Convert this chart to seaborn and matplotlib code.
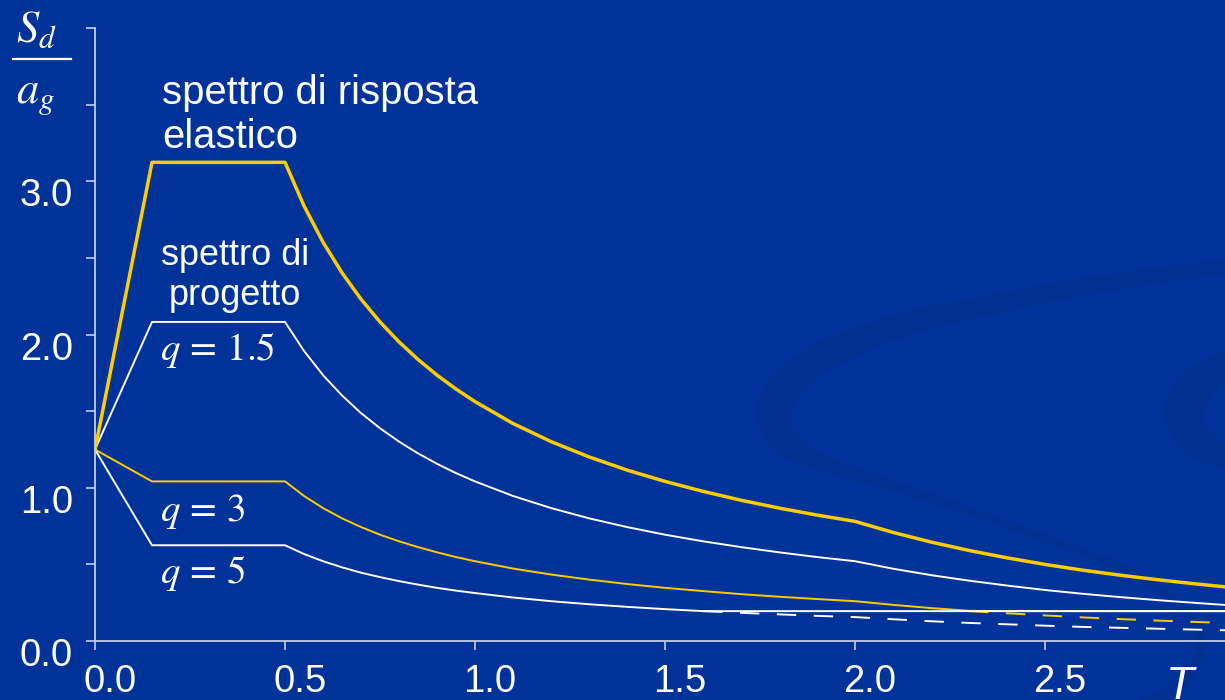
import numpy as np
import pandas as pd
import matplotlib
matplotlib.use("Agg")
import matplotlib.pyplot as plt
from matplotlib.patches import Polygon
from matplotlib.transforms import Affine2D, ScaledTranslation
import seaborn as sns

# ---- spectral ordinates S_d / a_g against period T [s] ----
period = [0.0, 0.15, 0.5, 0.55, 0.6, 0.65, 0.7, 0.75, 0.8, 0.85, 0.9, 0.95,
          1.0, 1.1, 1.2, 1.3, 1.4, 1.5, 1.6, 1.7, 1.8, 1.9, 2.0, 2.1, 2.2,
          2.3, 2.4, 2.5, 2.6, 2.7, 2.8, 2.9, 3.0]
sd_elastic = [1.25, 3.125, 3.125, 2.841, 2.604, 2.404, 2.232, 2.083, 1.953,
              1.838, 1.736, 1.645, 1.563, 1.420, 1.302, 1.202, 1.116, 1.042,
              0.977, 0.919, 0.868, 0.822, 0.781, 0.709, 0.646, 0.591, 0.543,
              0.500, 0.462, 0.429, 0.399, 0.372, 0.347]
sd_q15 = [1.25, 2.083, 2.083, 1.894, 1.736, 1.603, 1.488, 1.389, 1.302,
          1.225, 1.157, 1.096, 1.042, 0.947, 0.868, 0.801, 0.744, 0.694,
          0.651, 0.613, 0.579, 0.548, 0.521, 0.472, 0.430, 0.394, 0.362,
          0.333, 0.308, 0.286, 0.266, 0.248, 0.231]
sd_q3 = [1.25, 1.042, 1.042, 0.947, 0.868, 0.801, 0.744, 0.694, 0.651,
         0.613, 0.579, 0.548, 0.521, 0.473, 0.434, 0.401, 0.372, 0.347,
         0.326, 0.306, 0.289, 0.274, 0.260, 0.236, 0.215, 0.197, 0.181,
         0.167, 0.154, 0.143, 0.133, 0.124, 0.116]
sd_q5 = [1.25, 0.625, 0.625, 0.568, 0.521, 0.481, 0.446, 0.417, 0.391,
         0.368, 0.347, 0.329, 0.313, 0.284, 0.260, 0.240, 0.223, 0.208,
         0.195, 0.184, 0.174, 0.164, 0.156, 0.142, 0.129, 0.118, 0.109,
         0.100, 0.092, 0.086, 0.080, 0.074, 0.069]
lower_bound = 0.195

x_ticks = [0.0, 0.5, 1.0, 1.5, 2.0, 2.5]
x_tick_labels = ["0.0", "0.5", "1.0", "1.5", "2.0", "2.5"]
y_ticks = [0.0, 0.5, 1.0, 1.5, 2.0, 2.5, 3.0, 3.5, 4.0]
y_tick_labels = ["0.0", "", "1.0", "", "2.0", "", "3.0", "", ""]

BG = "#003399"
SWIRL = "#003090"
YELLOW = "#ffcc00"
WHITE = "#ffffff"
AXIS = "#c4cce6"

plt.rcParams["font.family"] = ["Liberation Sans", "DejaVu Sans"]
plt.rcParams["mathtext.fontset"] = "stix"

W, H = 1225, 700
fig = plt.figure(figsize=(W / 100, H / 100), dpi=100, facecolor=BG)

# pixel -> figure transform (origin top-left)
pix = Affine2D().scale(1 / W, -1 / H).translate(0, 1) + fig.transFigure


# ---- decorative swirl in the background ----
def ribbon(nodes, widths, n=40):
    """Filled ribbon of varying width along a Catmull-Rom centreline."""
    p = np.asarray(nodes, dtype=float)
    w = np.asarray(widths, dtype=float)
    ext = np.vstack([2 * p[0] - p[1], p, 2 * p[-1] - p[-2]])
    pts, wid = [], []
    for i in range(len(p) - 1):
        p0, p1, p2, p3 = ext[i], ext[i + 1], ext[i + 2], ext[i + 3]
        t = np.linspace(0, 1, n, endpoint=False)[:, None]
        seg = 0.5 * ((2 * p1) + (-p0 + p2) * t
                     + (2 * p0 - 5 * p1 + 4 * p2 - p3) * t ** 2
                     + (-p0 + 3 * p1 - 3 * p2 + p3) * t ** 3)
        pts.append(seg)
        wid.append(w[i] + (w[i + 1] - w[i]) * t[:, 0])
    pts = np.vstack(pts + [p[-1:]])
    wid = np.concatenate(wid + [w[-1:]])
    d = np.gradient(pts, axis=0)
    nrm = np.column_stack([-d[:, 1], d[:, 0]])
    nrm /= np.linalg.norm(nrm, axis=1)[:, None]
    left = pts + nrm * wid[:, None] / 2
    right = pts - nrm * wid[:, None] / 2
    poly = np.vstack([left, right[::-1]])
    fig.patches.append(Polygon(poly, closed=True, transform=pix,
                               facecolor=SWIRL, edgecolor="none",
                               zorder=-10))


ribbon([(1260, 262), (1100, 284), (1000, 303), (900, 326), (825, 356),
        (780, 395), (778, 432), (815, 460), (900, 488), (1000, 522),
        (1130, 572), (1192, 618), (1198, 660), (1160, 698), (1110, 715)],
       [14, 17, 20, 24, 30, 36, 32, 18, 10, 8, 8, 9, 11, 13, 14])
ribbon([(1245, 360), (1210, 374), (1186, 405), (1192, 436), (1220, 456),
        (1245, 464)],
       [24, 32, 42, 34, 22, 18])

# ---- axes ----
ax = fig.add_axes([95 / W, 59 / H, (W - 95) / W, (641 - 28.3) / H])
ax.set_facecolor("none")
ax.set_xlim(0, (W - 95) / 380)
ax.set_ylim(0, 4.0)

df = pd.DataFrame({"T": period, "elastic": sd_elastic, "q15": sd_q15,
                   "q3": sd_q3, "q5": sd_q5})


def split_at_bound(values):
    v = np.asarray(values, dtype=float)
    solid = np.maximum(v, lower_bound)
    below = np.nonzero(v < lower_bound)[0]
    start = below[0] - 1
    return solid, start, np.minimum(v[start:], lower_bound)


T = df["T"].to_numpy()

sns.lineplot(x=T, y=df["q15"], ax=ax, color=WHITE, linewidth=1.4,
             sort=False, estimator=None)

for col, color, lw in [("q3", YELLOW, 1.4), ("q5", WHITE, 1.4)]:
    solid, start, dashed = split_at_bound(df[col])
    sns.lineplot(x=T, y=solid, ax=ax, color=color, linewidth=lw,
                 sort=False, estimator=None)
    sns.lineplot(x=T[start:], y=dashed, ax=ax, color=color, linewidth=lw,
                 sort=False, estimator=None)
    ax.lines[-1].set_dashes((10, 9))

sns.lineplot(x=T, y=df["elastic"], ax=ax, color=YELLOW, linewidth=2.5,
             sort=False, estimator=None)

# spines and ticks
for side in ("top", "right"):
    ax.spines[side].set_visible(False)
for side in ("left", "bottom"):
    ax.spines[side].set_color(AXIS)
    ax.spines[side].set_linewidth(1.3)

ax.set_xticks(x_ticks, x_tick_labels)
ax.set_yticks(y_ticks, y_tick_labels)
ax.tick_params(axis="both", direction="out", length=6.5, width=1.2,
               color=AXIS, labelcolor=WHITE, labelsize=27.5)
ax.tick_params(axis="y", pad=9.5)
ax.tick_params(axis="x", pad=10)
for lab in ax.get_xticklabels():
    lab.set_transform(lab.get_transform()
                      + ScaledTranslation(0.15, 0, fig.dpi_scale_trans))
for lab in ax.get_yticklabels():
    lab.set_transform(lab.get_transform()
                      + ScaledTranslation(0, -0.11, fig.dpi_scale_trans))
ax.set_xlabel("")
ax.set_ylabel("")


# ---- annotations ----
def put(x, y, s, **kw):
    kw.setdefault("color", WHITE)
    kw.setdefault("va", "baseline")
    kw.setdefault("ha", "left")
    fig.text(x, y, s, transform=pix, **kw)


put(162, 104, "spettro di risposta", fontsize=28.8)
put(162, 148, "elastico", fontsize=28.8)
put(235, 265, "spettro di", fontsize=26, ha="center")
put(235, 305, "progetto", fontsize=26, ha="center")
put(160, 360, r"$q\,=\,1.5$", fontsize=28)
put(160, 521, r"$q\,=\,3$", fontsize=28)
put(160, 583, r"$q\,=\,5$", fontsize=28)

# ordinate label as a stacked fraction
put(16, 42, r"$S_d$", fontsize=32)
put(16, 103, r"$a_g$", fontsize=32)
fig.add_artist(plt.Line2D([13, 71], [59, 59], transform=pix, color=WHITE,
                          linewidth=1.6))
# abscissa label
put(1166, 699, "T", fontsize=33, fontstyle="italic")

fig.savefig("out.png", dpi=100, facecolor=BG)
